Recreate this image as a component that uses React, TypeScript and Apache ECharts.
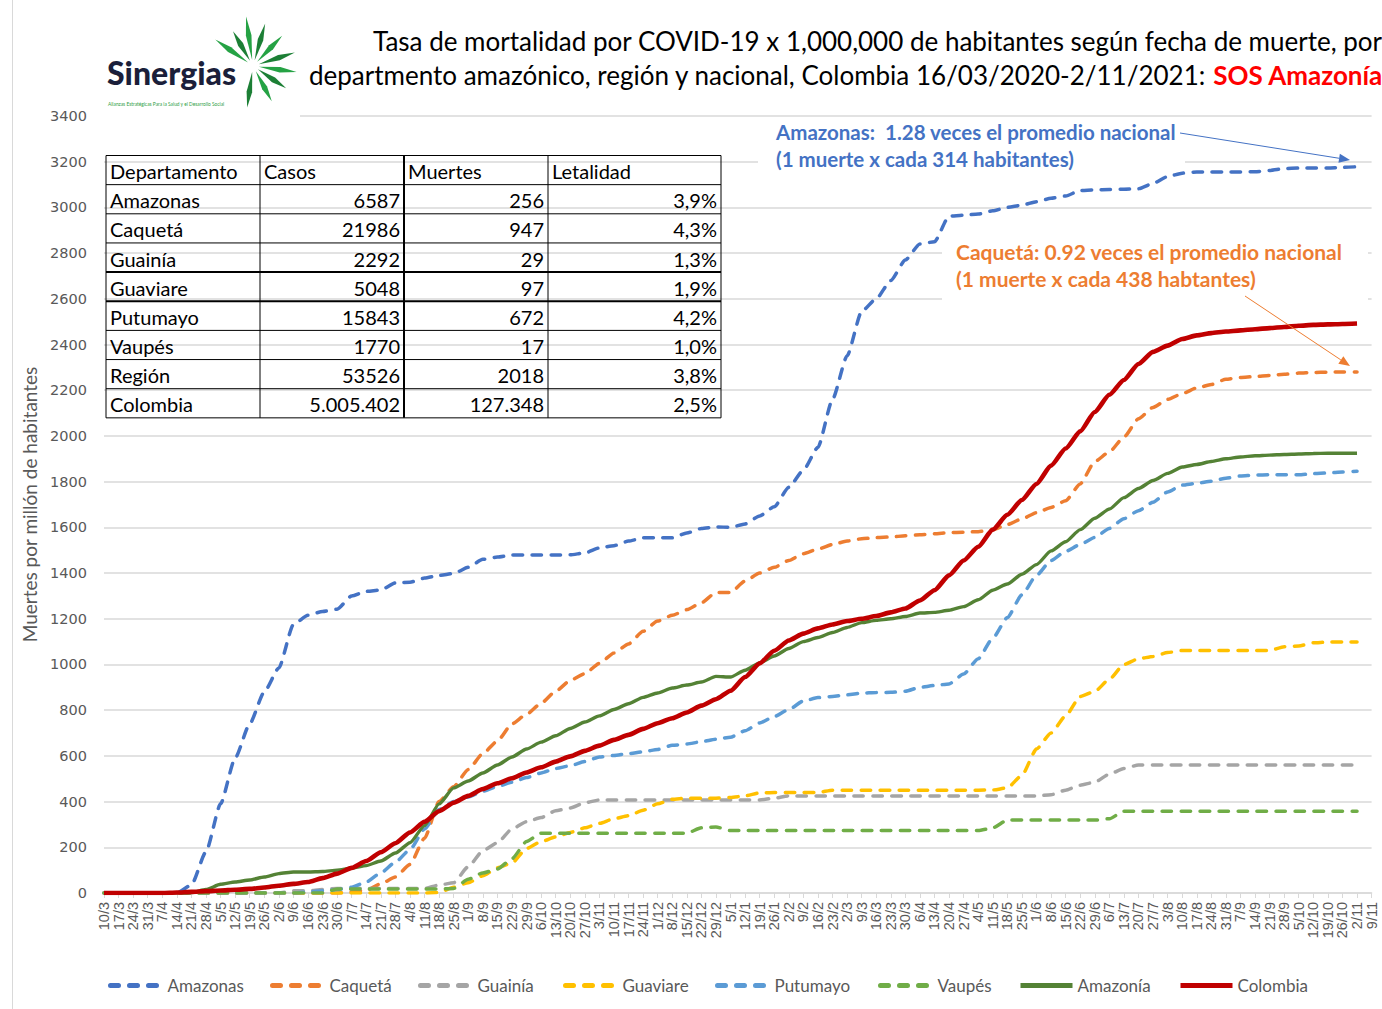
import React, { useEffect, useRef } from "react";
import * as echarts from "echarts";

const weekLabels = [
  "10/3","17/3","24/3","31/3","7/4","14/4","21/4","28/4","5/5","12/5","19/5","26/5",
  "2/6","9/6","16/6","23/6","30/6","7/7","14/7","21/7","28/7","4/8","11/8","18/8","25/8",
  "1/9","8/9","15/9","22/9","29/9","6/10","13/10","20/10","27/10","3/11","10/11","17/11","24/11",
  "1/12","8/12","15/12","22/12","29/12","5/1","12/1","19/1","26/1","2/2","9/2","16/2","23/2",
  "2/3","9/3","16/3","23/3","30/3","6/4","13/4","20/4","27/4","4/5","11/5","18/5","25/5",
  "1/6","8/6","15/6","22/6","29/6","6/7","13/7","20/7","27/7","3/8","10/8","17/8","24/8","31/8",
  "7/9","14/9","21/9","28/9","5/10","12/10","19/10","26/10","2/11","9/11"
];

const amazonas = [
  0,0,0,0,0,0,
  35,180,390,590,740,880,985,1175,1215,1232,1242,
  1300,1320,1326,1357,1360,1378,1390,1398,1425,1460,1470,
  1479,1479,1479,1479,1480,1488,1510,1520,1540,1554,1554,1554,
  1575,1595,1602,1600,1615,1650,1690,1775,1850,1950,2160,
  2350,2545,2600,2680,2770,2840,2850,2962,2966,2971,
  2985,3000,3010,3025,3040,3050,3074,3077,3078,3080,
  3082,3105,3135,3150,3155,3155,3155,3155,3156,3162,
  3170,3172,3172,3173,3175,3178,
  null
];
const caqueta = [
  0,0,0,0,0,0,0,0,0,0,0,0,0,0,0,0,0,
  5,12,40,70,125,240,400,465,540,610,665,
  740,782,830,883,930,960,1005,1050,1090,1145,1190,1215,
  1240,1270,1315,1315,1365,1400,1425,1455,1485,1505,1525,
  1540,1550,1555,1558,1563,1568,1572,1577,1579,1581,
  1590,1612,1637,1664,1687,1716,1790,1888,1930,1995,
  2075,2125,2160,2185,2210,2225,2248,2256,2260,2265,
  2270,2275,2278,2279,2280,2280,
  null
];
const guainia = [
  0,0,0,0,0,0,0,0,0,0,0,0,0,
  10,10,15,20,20,20,20,20,20,20,
  35,45,115,185,220,280,312,330,360,372,395,407,
  407,407,407,407,407,407,407,407,407,407,407,415,
  425,425,425,425,425,425,425,425,425,425,425,425,425,425,425,425,425,425,
  430,450,472,485,520,545,
  560,560,560,560,560,560,560,560,560,560,560,560,560,560,560,560,
  null
];
const guaviare = [
  0,0,0,0,0,0,0,0,0,0,0,0,0,0,0,0,0,0,0,0,0,0,0,
  3,25,45,75,110,131,195,225,245,265,285,305,
  325,338,362,390,410,415,415,415,418,425,438,
  440,440,440,440,
  450,450,450,450,450,450,450,450,450,450,450,451,
  460,515,630,700,775,860,882,935,1000,1025,1035,1052,
  1061,1061,1061,1061,1061,1061,1061,
  1078,1081,1095,1098,1098,1098,
  null
];
const putumayo = [
  0,0,0,0,0,0,0,0,0,0,0,0,0,0,
  5,10,15,25,48,88,135,190,280,365,400,
  420,445,466,485,505,525,545,557,575,595,
  602,610,618,628,646,652,662,673,682,710,744,
  772,803,840,855,860,867,875,877,878,883,
  900,908,915,958,1025,1115,1205,1305,1390,1455,
  1495,1525,1556,1595,1638,1673,1710,1755,1785,1793,
  1802,1815,1825,1829,1830,1830,1830,1835,1838,1842,1846,
  null
];
const vaupes = [
  0,0,0,0,0,0,0,0,0,0,0,0,0,0,0,0,
  18,18,18,18,18,18,18,18,20,
  60,88,105,150,225,262,
  262,262,262,262,262,262,262,262,262,262,
  285,289,
  273,273,273,273,273,273,273,273,273,273,273,273,273,273,273,273,273,273,
  285,319,319,319,319,319,319,319,
  325,358,358,358,358,358,358,358,358,358,358,358,358,358,358,358,358,358,
  null
];
const amazonia = [
  0,0,0,0,0,0,
  2,15,38,48,57,70,85,92,92,94,100,
  108,120,140,175,220,295,390,460,490,525,560,
  595,630,660,688,720,748,775,803,828,856,875,897,
  910,923,948,945,975,1007,1037,1070,1100,1118,1140,
  1162,1183,1193,1200,1210,1225,1228,1237,1253,1283,
  1325,1352,1395,1437,1497,1537,1590,1640,1680,1730,
  1770,1805,1836,1864,1875,1888,1900,1908,1913,1916,
  1919,1921,1923,1924,1924,1924,
  null
];
const colombia = [
  0,0,0,0,0,
  2,5,8,11,14,18,24,32,40,48,65,85,
  110,140,178,218,265,312,358,395,425,455,480,
  502,527,550,575,598,622,645,670,692,718,743,765,
  790,820,848,885,945,1005,1060,1105,1135,1158,1175,
  1190,1200,1212,1228,1245,1280,1325,1390,1455,1515,
  1590,1655,1720,1790,1870,1945,2020,2105,2180,2245,
  2315,2368,2395,2424,2440,2450,2457,2462,2467,2472,
  2477,2482,2486,2488,2490,2492,
  null
];

const seriesNames = ["Amazonas","Caquetá","Guainía","Guaviare","Putumayo","Vaupés","Amazonía","Colombia"];
const seriesData = [amazonas, caqueta, guainia, guaviare, putumayo, vaupes, amazonia, colombia];
const seriesColors = ["#4472C4","#ED7D31","#A5A5A5","#FFC000","#5B9BD5","#70AD47","#548235","#C00000"];
const seriesDashed = [true,true,true,true,true,true,false,false];
const seriesWidths = [3.5,3.5,3.5,3.5,3.5,3.5,3.4,4.6];

const tableHeader = ["Departamento","Casos","Muertes","Letalidad"];
const tableDeptos = ["Amazonas","Caquetá","Guainía","Guaviare","Putumayo","Vaupés","Región","Colombia"];
const tableCasos = ["6587","21986","2292","5048","15843","1770","53526","5.005.402"];
const tableMuertes = ["256","947","29","97","672","17","2018","127.348"];
const tableLetalidad = ["3,9%","4,3%","1,3%","1,9%","4,2%","1,0%","3,8%","2,5%"];

const legendLefts = [108, 270, 418, 563, 715, 878, 1018, 1178];

const CAL = "Lato, 'Noto Sans', sans-serif";

function arrow(x1: number, y1: number, x2: number, y2: number, color: string): any[] {
  const dx = x2 - x1, dy = y2 - y1;
  const len = Math.sqrt(dx * dx + dy * dy);
  const ux = dx / len, uy = dy / len;
  const bx = x2 - ux * 11, by = y2 - uy * 11;
  const px = -uy * 4.5, py = ux * 4.5;
  return [
    { type: "line", z: 20, shape: { x1, y1, x2: bx, y2: by }, style: { stroke: color, lineWidth: 1 } },
    { type: "polygon", z: 20, shape: { points: [[x2, y2], [bx + px, by + py], [bx - px, by - py]] }, style: { fill: color } },
  ];
}

function logo(): any[] {
  const cx = 253, cy = 66;
  const leaves = [
    [-145, 46], [-120, 40], [-98, 50], [-74, 44], [-46, 42], [-18, 44], [8, 44], [34, 40], [62, 40], [98, 42],
  ];
  const out: any[] = [];
  leaves.forEach((l, i) => {
    const a = (l[0] * Math.PI) / 180;
    const r0 = 6, r1 = l[1], rm = r1 * 0.62, hw = 2.8;
    const ca = Math.cos(a), sa = Math.sin(a);
    out.push({
      type: "polygon",
      z: 20,
      shape: {
        points: [
          [cx + ca * r0, cy + sa * r0],
          [cx + ca * rm - sa * hw, cy + sa * rm + ca * hw],
          [cx + ca * r1, cy + sa * r1],
          [cx + ca * rm + sa * hw, cy + sa * rm - ca * hw],
        ],
      },
      style: { fill: i % 2 === 0 ? "#25A244" : "#1C7F35" },
    });
  });
  out.push({
    type: "text", z: 21, left: 107, top: 56,
    style: { text: "Sinergias", font: `900 32px ${CAL}`, fill: "#1B1F3A" },
  });
  out.push({
    type: "text", z: 21, x: 108, y: 101, scaleX: 0.8,
    style: { text: "Alianzas Estratégicas Para la Salud y el Desarrollo Social", font: `6px ${CAL}`, fill: "#2E9E44" },
  });
  return out;
}

function table(): any[] {
  const colX = [106, 260, 404, 548, 721];
  const top = 155.5, rowH = 29.15;
  const nRows = tableDeptos.length + 1;
  const out: any[] = [];
  for (let r = 0; r <= nRows; r++) {
    const y = top + r * rowH;
    const thick = r === 4 || r === 5;
    out.push({ type: "line", z: 10, shape: { x1: colX[0], y1: y, x2: colX[4], y2: y }, style: { stroke: "#000", lineWidth: thick ? 2 : 1 } });
  }
  colX.forEach((x, c) => {
    out.push({ type: "line", z: 10, shape: { x1: x, y1: top, x2: x, y2: top + nRows * rowH }, style: { stroke: "#000", lineWidth: c === 2 ? 2 : 1 } });
  });
  const font = `20px ${CAL}`;
  tableHeader.forEach((h, c) => {
    out.push({ type: "text", z: 11, x: colX[c] + 4, y: top + rowH / 2 + 1, style: { text: h, font, fill: "#000", textAlign: "left", textVerticalAlign: "middle" } });
  });
  const cols = [tableDeptos, tableCasos, tableMuertes, tableLetalidad];
  tableDeptos.forEach((_, r) => {
    const y = top + (r + 1.5) * rowH + 1;
    cols.forEach((col, c) => {
      out.push({
        type: "text", z: 11,
        x: c === 0 ? colX[0] + 4 : colX[c + 1] - 4,
        y,
        style: { text: col[r], font, fill: "#000", textAlign: c === 0 ? "left" : "right", textVerticalAlign: "middle" },
      });
    });
  });
  return out;
}

export default function App() {
  const ref = useRef<HTMLDivElement>(null);
  useEffect(() => {
    document.body.style.margin = "0";
    const chart = echarts.init(ref.current!, null, { renderer: "svg" });

    const series = seriesNames.map((name, i) => ({
      name,
      type: "line",
      data: seriesData[i],
      symbol: "none",
      smooth: 0.2,
      smoothMonotone: "x",
      z: 2 + i,
      lineStyle: {
        color: seriesColors[i],
        width: seriesWidths[i],
        type: seriesDashed[i] ? [9.5, 9.5] : "solid",
        cap: seriesDashed[i] ? "round" : "butt",
      },
      itemStyle: { color: seriesColors[i] },
    }));

    const legends = seriesNames.map((name, i) => ({
      data: [name],
      left: legendLefts[i],
      top: 977,
      padding: 0,
      itemWidth: 52,
      itemHeight: 14,
      itemStyle: { opacity: 0 },
      lineStyle: {
        width: 5,
        type: seriesDashed[i] ? [8, 11] : "solid",
        cap: seriesDashed[i] ? "round" : "butt",
      },
      textStyle: { fontFamily: CAL, fontSize: 17, color: "#595959", padding: [0, 0, 0, 0] },
    }));

    const graphic: any[] = [
      { type: "line", z: 30, shape: { x1: 12.5, y1: 0, x2: 12.5, y2: 1009 }, style: { stroke: "#D9D9D9", lineWidth: 1 } },
      { type: "rect", z: 1, shape: { x: 94, y: 108, width: 206, height: 14 }, style: { fill: "#fff" } },
      { type: "rect", z: 1, shape: { x: 758, y: 119, width: 427, height: 53 }, style: { fill: "#fff" } },
      { type: "rect", z: 1, shape: { x: 942, y: 234, width: 426, height: 68 }, style: { fill: "#fff" } },
      ...logo(),
      {
        type: "text", z: 21, x: 373, y: 41,
        style: { text: "Tasa de mortalidad por COVID-19 x 1,000,000 de habitantes según fecha de muerte, por", font: `26px ${CAL}`, fill: "#000", textVerticalAlign: "middle" },
      },
      {
        type: "text", z: 21, x: 309, y: 75,
        style: {
          text: "{a|departmento amazónico, región y nacional, Colombia 16/03/2020-2/11/2021: }{b|SOS Amazonía}",
          textVerticalAlign: "middle",
          rich: {
            a: { font: `26px ${CAL}`, fill: "#000", color: "#000" },
            b: { font: `bold 26px ${CAL}`, fill: "#FF0000", color: "#FF0000" },
          },
        },
      },
      {
        type: "text", z: 21, x: 776, y: 132,
        style: { text: "Amazonas:  1.28 veces el promedio nacional", font: `bold 20.5px ${CAL}`, fill: "#4472C4", textVerticalAlign: "middle" },
      },
      {
        type: "text", z: 21, x: 776, y: 159,
        style: { text: "(1 muerte x cada 314 habitantes)", font: `bold 20.5px ${CAL}`, fill: "#4472C4", textVerticalAlign: "middle" },
      },
      ...arrow(1180, 133, 1350, 160, "#4472C4"),
      {
        type: "text", z: 21, x: 956, y: 251,
        style: { text: "Caquetá: 0.92 veces el promedio nacional", font: `bold 21px ${CAL}`, fill: "#ED7D31", textVerticalAlign: "middle" },
      },
      {
        type: "text", z: 21, x: 956, y: 278,
        style: { text: "(1 muerte x cada 438 habtantes)", font: `bold 21px ${CAL}`, fill: "#ED7D31", textVerticalAlign: "middle" },
      },
      ...arrow(1245, 296, 1350, 366, "#ED7D31"),
      ...table(),
    ];

    const option: any = {
      animation: false,
      backgroundColor: "#ffffff",
      grid: { left: 104, right: 10.4, top: 116, bottom: 116, containLabel: false },
      legend: legends,
      xAxis: {
        type: "category",
        data: weekLabels,
        boundaryGap: false,
        axisLine: { lineStyle: { color: "#D9D9D9", width: 1.5 } },
        axisTick: { show: true, interval: 0, length: 5, lineStyle: { color: "#D9D9D9", width: 1 } },
        axisLabel: { interval: 0, rotate: 90, fontSize: 14.5, fontFamily: "'Liberation Sans', Arial, sans-serif", color: "#595959", margin: 9 },
        splitLine: { show: false },
      },
      yAxis: {
        type: "value",
        min: 0,
        max: 3400,
        interval: 200,
        name: "Muertes por millón de habitantes",
        nameLocation: "middle",
        nameRotate: 90,
        nameGap: 63,
        nameTextStyle: { fontFamily: CAL, fontSize: 19, color: "#595959" },
        axisLine: { show: false },
        axisTick: { show: false },
        axisLabel: {
          fontSize: 14.5,
          fontFamily: "'DejaVu Sans', Verdana, sans-serif",
          color: "#595959",
          margin: 17,
          formatter: (v: number) => String(v),
        },
        splitLine: { lineStyle: { color: "#D9D9D9", width: 1.5 } },
      },
      series,
      graphic,
    };
    chart.setOption(option);
    return () => chart.dispose();
  }, []);
  return <div ref={ref} style={{ width: 1382, height: 1009, background: "#fff" }} />;
}
